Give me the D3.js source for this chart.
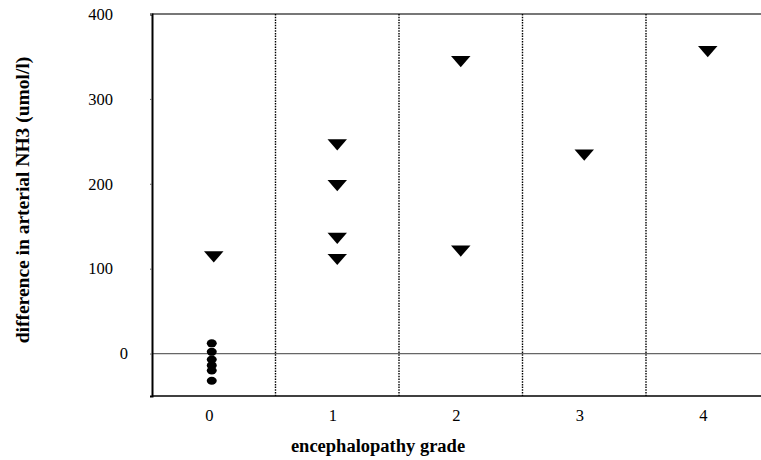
<!DOCTYPE html>
<html>
<head>
<meta charset="utf-8">
<script src="https://cdn.jsdelivr.net/npm/d3@7"></script>
<style>
  html, body { margin: 0; padding: 0; background: #fff; }
  svg { display: block; font-family: "Liberation Serif", "Times New Roman", serif; }
</style>
</head>
<body>
<svg id="chart" width="761" height="460"></svg>
<script>
// Encephalopathy grade categories
const grades = [0, 1, 2, 3, 4];

// Increase in arterial NH3 (umol/l), triangles: [grade, value]
const triangleGrade = [0, 1, 1, 1, 1, 2, 2, 3, 4];
const triangleValue = [116, 248, 200, 138, 113, 346, 123, 236, 358];

// Grade 0 patients shown as dots
const dotGrade = [0, 0, 0, 0, 0, 0];
const dotValue = [12, 2, -7, -14, -20, -32];

// Axis ticks
const yTicks = [0, 100, 200, 300, 400];
const dividers = [0.5, 1.5, 2.5, 3.5];

const svg = d3.select("#chart");

const x = d3.scaleLinear().domain([-0.5, 4.5]).range([152, 769.5]);
const y = d3.scaleLinear().domain([-50, 400]).range([396, 14]);

// Frame: gray top edge, black bottom edge
svg.append("line")
  .attr("x1", x(-0.5)).attr("x2", 761)
  .attr("y1", y(400)).attr("y2", y(400))
  .attr("stroke", "#777").attr("stroke-width", 2);
svg.append("line")
  .attr("x1", x(-0.5)).attr("x2", 761)
  .attr("y1", y(-50)).attr("y2", y(-50))
  .attr("stroke", "#000").attr("stroke-width", 1.6);

// Zero reference line
svg.append("line")
  .attr("x1", x(-0.5)).attr("x2", 761)
  .attr("y1", y(0)).attr("y2", y(0))
  .attr("stroke", "#666").attr("stroke-width", 1.2);

// Dotted separators between grades
svg.selectAll(".divider").data(dividers).join("line")
  .attr("class", "divider")
  .attr("x1", d => x(d)).attr("x2", d => x(d))
  .attr("y1", y(400)).attr("y2", y(-50))
  .attr("stroke", "#000").attr("stroke-width", 1.4)
  .attr("stroke-dasharray", "1.5,1.2");

// Left axis
const yAxis = svg.append("g")
  .attr("transform", `translate(${x(-0.5)},0)`)
  .call(d3.axisLeft(y).tickValues(yTicks).tickSize(2).tickPadding(36).tickFormat(d3.format("d")));
yAxis.select(".domain").attr("stroke", "#000").attr("stroke-width", 2);
yAxis.selectAll(".tick line").attr("stroke", "#666");
yAxis.selectAll(".tick text")
  .attr("font-size", 16.5).attr("fill", "#000")
  .attr("font-family", "Liberation Serif, serif")
  .attr("x", d => d === 0 ? -24 : -39);

// Bottom axis labels (no line, no ticks)
const xAxis = svg.append("g")
  .attr("transform", `translate(0,${y(-50)})`)
  .call(d3.axisBottom(x).tickValues(grades).tickSize(0).tickPadding(13).tickFormat(d3.format("d")));
xAxis.select(".domain").remove();
xAxis.selectAll(".tick text")
  .attr("font-size", 16.5).attr("fill", "#000")
  .attr("font-family", "Liberation Serif, serif")
  .attr("dx", -5);

// Axis titles
svg.append("text")
  .attr("transform", `translate(29,200) rotate(-90)`)
  .attr("text-anchor", "middle")
  .attr("font-size", 19.5).attr("font-weight", "bold")
  .text("difference in arterial NH3 (umol/l)");

svg.append("text")
  .attr("x", 378).attr("y", 452)
  .attr("text-anchor", "middle")
  .attr("font-size", 18.5).attr("font-weight", "bold")
  .text("encephalopathy grade");

// Down-pointing triangles
const tri = d3.symbol().type(d3.symbolTriangle).size(90);
svg.selectAll(".tri").data(triangleValue).join("path")
  .attr("class", "tri")
  .attr("d", tri)
  .attr("transform", (d, i) => `translate(${x(triangleGrade[i])},${y(d)}) rotate(180) scale(1.35,0.9)`)
  .attr("fill", "#000");

// Dots
svg.selectAll(".dot").data(dotValue).join("ellipse")
  .attr("class", "dot")
  .attr("cx", (d, i) => x(dotGrade[i]) - 2)
  .attr("cy", d => y(d))
  .attr("rx", 5).attr("ry", 4)
  .attr("fill", "#000");
</script>
</body>
</html>
